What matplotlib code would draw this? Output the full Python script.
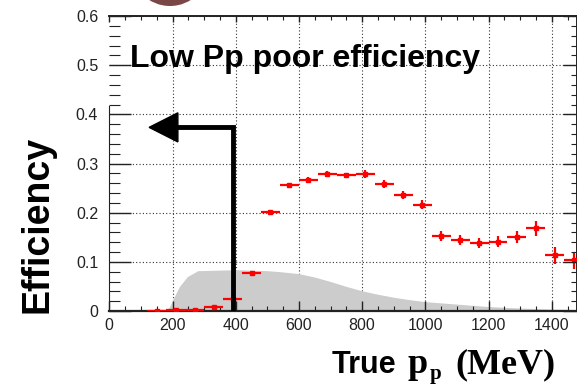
import numpy as np
import matplotlib
matplotlib.use("Agg")
import matplotlib.pyplot as plt
from matplotlib.patches import Circle, Polygon
from matplotlib.transforms import IdentityTransform
from matplotlib.ticker import MultipleLocator

plt.rcParams['font.family'] = ['Liberation Sans', 'DejaVu Sans']

# ---- data ----
bin_centers = [150, 210, 270, 330, 390, 450, 510, 570, 630, 690, 750, 810,
               870, 930, 990, 1050, 1110, 1170, 1230, 1290, 1350, 1410, 1470]
efficiency = [0.000, 0.002, 0.003, 0.008, 0.024, 0.078, 0.201, 0.257, 0.267,
              0.279, 0.276, 0.278, 0.258, 0.236, 0.216, 0.152, 0.145, 0.139,
              0.141, 0.151, 0.168, 0.113, 0.103]
eff_err = [0.002, 0.002, 0.002, 0.003, 0.004, 0.004, 0.004, 0.004, 0.005,
           0.005, 0.005, 0.008, 0.008, 0.008, 0.009, 0.010, 0.010, 0.010,
           0.011, 0.012, 0.016, 0.018, 0.018]
bin_half_width = 30

dist_p = [178, 190, 200, 222, 247, 280, 400, 450, 500, 540, 600, 650, 700,
          750, 800, 850, 900, 950, 1000, 1100, 1200, 1300, 1400, 1480]
dist_val = [0.0, 0.008, 0.022, 0.050, 0.070, 0.082, 0.084, 0.083, 0.082,
            0.080, 0.076, 0.069, 0.060, 0.050, 0.041, 0.034, 0.028, 0.023,
            0.019, 0.014, 0.009, 0.006, 0.004, 0.003]

cut_p = 390
arrow_y = 0.3735
arrow_tip = 126
arrow_base = 217
arrow_half = 0.0296

xticks = [0, 200, 400, 600, 800, 1000, 1200, 1400]
yticks = [0, 0.1, 0.2, 0.3, 0.4, 0.5, 0.6]
ytick_labels = ['0', '0.1', '0.2', '0.3', '0.4', '0.5', '0.6']

W, H = 577, 384
fig = plt.figure(figsize=(W / 100, H / 100), dpi=100)
ax = fig.add_axes([109.3 / W, 1 - 311 / H, 1 - 109.3 / W, (311 - 16) / H])
ax.set_xlim(0, 1480)
ax.set_ylim(0, 0.6)

# grid drawn manually beneath the grey distribution
for xv in xticks[1:]:
    ax.axvline(xv, color='#333333', lw=0.8, ls=(0, (1, 2)), zorder=0.8)
for yv in yticks[1:]:
    ax.axhline(yv, color='#333333', lw=0.8, ls=(0, (1, 2)), zorder=0.8)

ax.fill_between(dist_p, 0, dist_val, color='#cccccc', lw=0, zorder=1)

ax.errorbar(bin_centers, efficiency, xerr=bin_half_width, yerr=eff_err,
            fmt='s', color='#ff0000', ms=3.5, elinewidth=1.6, capsize=0,
            zorder=3)

# arrow
ax.plot([cut_p, cut_p, arrow_base], [0, arrow_y, arrow_y], color='black',
        lw=3.5, solid_joinstyle='miter', zorder=4)
ax.add_patch(Polygon([(arrow_base, arrow_y + arrow_half),
                      (arrow_base, arrow_y - arrow_half),
                      (arrow_tip, arrow_y)], closed=True, color='black',
                     zorder=4))

ax.text(65, 0.496, 'Low Pp poor efficiency', fontsize=23, fontweight='bold',
        va='baseline', ha='left', zorder=5)

ax.set_xticks(xticks)
ax.set_yticks(yticks)
ax.set_yticklabels(ytick_labels)
ax.xaxis.set_minor_locator(MultipleLocator(50))
ax.yaxis.set_minor_locator(MultipleLocator(0.02))
ax.set_axisbelow(False)
ax.tick_params(axis='y', which='major', direction='in', length=16, width=1.0,
               labelsize=11.5, pad=8, left=True, right=False, colors='#222222')
ax.tick_params(axis='y', which='minor', direction='in', length=8, width=0.8,
               left=True, right=False, colors='#222222')
ax.tick_params(axis='x', which='major', direction='in', length=7.5, width=1.0,
               labelsize=11.5, pad=5, bottom=True, top=False, colors='#222222')
ax.tick_params(axis='x', which='minor', direction='in', length=3.5, width=0.8,
               bottom=True, top=False, colors='#222222')
for lbl in ax.get_xticklabels() + ax.get_yticklabels():
    lbl.set_color('#222222')

ax.spines['left'].set_linewidth(0.8)
ax.spines['left'].set_bounds(0, 0.416)
ax.spines['bottom'].set_linewidth(1.6)
ax.spines['top'].set_linewidth(1.4)
ax.spines['right'].set_linewidth(1.4)
for s in ax.spines.values():
    s.set_color('#222222')

# right & top tick marks (shorter)
axr = ax.twinx()
axr.set_ylim(ax.get_ylim())
axr.set_yticks(yticks)
axr.yaxis.set_minor_locator(MultipleLocator(0.02))
axr.tick_params(axis='y', which='major', direction='in', length=10, width=1.0,
                labelright=False, colors='#222222')
axr.tick_params(axis='y', which='minor', direction='in', length=4, width=0.8,
                colors='#222222')
axt = ax.twiny()
axt.set_xlim(ax.get_xlim())
axt.set_xticks(xticks)
axt.xaxis.set_minor_locator(MultipleLocator(50))
axt.tick_params(axis='x', which='major', direction='in', length=4, width=1.0,
                labeltop=False, colors='#222222')
axt.tick_params(axis='x', which='minor', direction='in', length=3, width=0.8,
                colors='#222222')
for a in (axr, axt):
    for s in a.spines.values():
        s.set_visible(False)

fig.text(38 / W, 1 - 224.5 / H, 'Efficiency', rotation=90, fontsize=27,
         fontweight='bold', ha='center', va='center')
label_y = 1 - 373 / H
fig.text(332 / W, label_y, 'True', fontsize=22, fontweight='bold',
         ha='left', va='baseline')
fig.text(407 / W, label_y, 'p', fontsize=26, fontweight='bold',
         family='Liberation Serif', ha='left', va='baseline')
fig.text(430 / W, label_y - 6 / H, 'p', fontsize=15, family='Liberation Serif',
         fontweight='bold', ha='left', va='baseline')
fig.text(455 / W, label_y, '(MeV)', fontsize=26, fontweight='bold',
         family='Liberation Serif', ha='left', va='baseline')

fig.patches.append(Circle((170, H + 33), 39, transform=IdentityTransform(),
                          facecolor='#7a4747', edgecolor='none', figure=fig))

fig.savefig('out.png', dpi=100)
